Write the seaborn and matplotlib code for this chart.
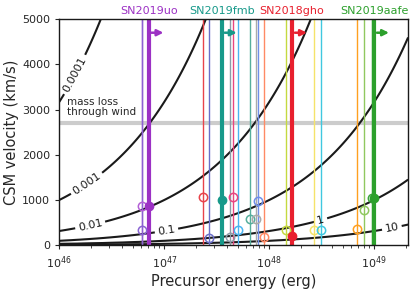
import numpy as np
import matplotlib
matplotlib.use('Agg')
import matplotlib.pyplot as plt
import seaborn as sns

# mass contours (Msun) and where their labels sit
mass_levels = [1e-4, 1e-3, 1e-2, 0.1, 1, 10]
mass_labels = ['0.0001', '0.001', '0.01', '0.1', '1', '10']
label_pos = [(1.38e46, 3785), (1.82e46, 1370), (1.96e46, 470),
             (1.05e47, 325), (3.1e48, 560), (1.47e49, 390)]

# other SNe: precursor energy (erg), CSM velocity (km/s)
thin_energy = [6.1e46, 6.1e46, 2.32e47, 2.64e47, 4.24e47, 4.56e47, 5.05e47, 6.56e47,
               7.5e47, 7.8e47, 8.9e47, 1.43e48, 2.65e48, 3.14e48, 6.83e48, 8.07e48, 9.47e48]
thin_vel = [875, 330, 1074, 155, 190, 1074, 345, 588,
            588, 990, 180, 331, 345, 331, 360, 773, 1052]
thin_colors = ['#b35fd6', '#8a63d2', '#e8434a', '#6b6fc8', '#8c9ba8', '#e8457f', '#4ab4f0', '#55ae9c',
               '#aaaaaa', '#6f8ee8', '#ff8a65', '#c5d940', '#f5e36a', '#40c8e0', '#ffa020', '#90c860', '#3aa53a']

# highlighted SNe (lower limits on energy)
sn_names = ['SN2019uo', 'SN2019fmb', 'SN2018gho', 'SN2019aafe']
sn_energy = [7.1e46, 3.54e47, 1.65e48, 9.98e48]
sn_vel = [875, 1000, 205, 1052]
sn_colors = ['#9c31c4', '#17998a', '#e8202e', '#2ca02c']

wind_vel = 2700
msun = 1.989e33

sns.set_theme(style='ticks')
plt.rcParams['font.family'] = ['DejaVu Sans']

fig = plt.figure(figsize=(4.16, 2.90), dpi=100)
ax = fig.add_axes([0.1425, 0.154, 0.981 - 0.1425, 0.934 - 0.154])
ax.set_xscale('log')
ax.set_xlim(1e46, 2.1e49)
ax.set_ylim(0, 5000)

# contours of M = 2E / v^2
E = np.logspace(46, np.log10(2.1e49), 400)
V = np.linspace(1, 5000, 400)
EE, VV = np.meshgrid(E, V)
M = 2 * EE / (VV * 1e5) ** 2 / msun
cs = ax.contour(EE, VV, M, levels=mass_levels, colors='k', linewidths=1.5)
ax.clabel(cs, fmt=dict(zip(mass_levels, mass_labels)), inline=True,
          fontsize=8, manual=label_pos, inline_spacing=3)

ax.axhline(wind_vel, color='gray', alpha=0.4, lw=3, zorder=1)
ax.text(1.18e46, 2830, 'mass loss\nthrough wind', fontsize=7.5, va='bottom', ha='left',
        linespacing=1.0)

for e, v, c in zip(thin_energy, thin_vel, thin_colors):
    ax.axvline(e, color=c, lw=1, zorder=2)
    ax.plot(e, v, 'o', mfc='none', mec=c, mew=1.1, ms=6, zorder=3)

for name, e, v, c in zip(sn_names, sn_energy, sn_vel, sn_colors):
    ax.axvline(e, color=c, lw=3, zorder=2)
    ax.plot(e, v, 'o', color=c, ms=6, zorder=4)
    ax.annotate('', xy=(e * 1.47, 4700), xytext=(e, 4700),
                arrowprops=dict(arrowstyle='-|>', color=c, lw=1.8, mutation_scale=9))
    ax.text(e, 1.012, name, color=c, fontsize=8, ha='center', va='bottom',
            transform=ax.get_xaxis_transform())

ax.set_xlim(1e46, 2.1e49)
ax.set_ylim(0, 5000)
ax.set_yticks([0, 1000, 2000, 3000, 4000, 5000])
ax.tick_params(labelsize=8, length=3, width=0.8)
ax.tick_params(which='minor', length=2, width=0.6)
ax.set_xlabel('Precursor energy (erg)', fontsize=10.5, labelpad=2)
ax.set_ylabel('CSM velocity (km/s)', fontsize=10.5, labelpad=2)
for s in ax.spines.values():
    s.set_color('k')
    s.set_linewidth(1)

fig.savefig('out.png', dpi=100)
